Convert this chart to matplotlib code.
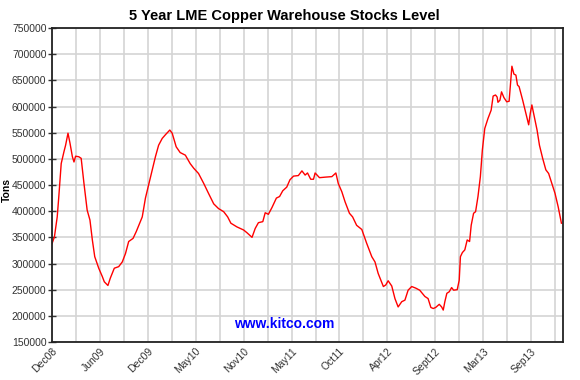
"""
5 Year LME Copper Warehouse Stocks Level, kitco-style line chart.
"""

import matplotlib

matplotlib.use("Agg")

import matplotlib.pyplot as plt  # noqa: E402

plt.rcParams["font.family"] = ["Liberation Sans", "DejaVu Sans"]

# trading-day index (0 = Dec 2008) and warehouse stocks in tons
DAYS = [
    0, 6, 13, 17, 23, 30, 34, 40, 45, 51, 55, 59, 67, 73, 80, 88, 95, 101,
    107, 117, 126, 131, 140, 146, 156, 167, 176, 184, 192, 203, 211, 217,
    226, 234, 242, 251, 259, 267, 276, 284, 295, 301, 311, 321, 334, 346,
    355, 367, 380, 392, 405, 417, 430, 440, 448, 463, 480, 488, 501, 509,
    517, 528, 534, 542, 551, 562, 570, 578, 588, 596, 605, 617, 626, 634,
    640, 648, 655, 659, 670, 684, 701, 711, 717, 726, 734, 745, 753, 763,
    776, 788, 801, 809, 817, 830, 836, 842, 851, 859, 867, 876, 884, 892,
    901, 911, 921, 934, 942, 949, 955, 961, 970, 976, 980, 984, 989, 995,
    1001, 1006, 1015, 1020, 1023, 1028, 1034, 1040, 1046, 1050, 1056, 1061,
    1067, 1073, 1078, 1084, 1092, 1100, 1105, 1111, 1115, 1117, 1122, 1126,
    1132, 1139, 1145, 1152, 1157, 1162, 1166, 1170, 1179, 1186, 1194, 1198,
    1202, 1209, 1215, 1221, 1229, 1237, 1244, 1252, 1260, 1268, 1276,
]
STOCKS = [
    338000, 351000, 389000, 428000, 491000, 514000, 526000, 549000, 530000,
    504000, 494000, 505000, 504000, 501000, 453000, 402000, 383000, 345000,
    313000, 291000, 275000, 265000, 258000, 272000, 291000, 294000, 303000,
    319000, 342000, 348000, 361000, 372000, 389000, 425000, 450000, 479000,
    504000, 526000, 539000, 546000, 555000, 549000, 523000, 512000, 507000,
    491000, 482000, 472000, 453000, 434000, 414000, 405000, 399000, 389000,
    377000, 370000, 364000, 359000, 350000, 367000, 378000, 380000, 397000,
    394000, 407000, 425000, 428000, 439000, 446000, 460000, 467000, 468000,
    477000, 469000, 473000, 461000, 461000, 473000, 464000, 465000, 466000,
    473000, 453000, 437000, 418000, 396000, 389000, 373000, 365000, 339000,
    313000, 303000, 281000, 256000, 259000, 267000, 257000, 233000, 217000,
    227000, 230000, 249000, 256000, 253000, 249000, 237000, 233000, 216000,
    214000, 216000, 222000, 217000, 211000, 227000, 243000, 246000, 254000,
    249000, 250000, 268000, 313000, 321000, 326000, 345000, 342000, 373000,
    396000, 399000, 428000, 466000, 517000, 558000, 577000, 593000, 620000,
    622000, 618000, 608000, 612000, 628000, 617000, 609000, 610000, 677000,
    662000, 660000, 641000, 638000, 612000, 590000, 565000, 587000, 603000,
    577000, 555000, 526000, 501000, 479000, 472000, 453000, 434000, 408000,
    377000,
]

TICK_LABELS = [
    "Dec08", "Jun09", "Dec09", "May10", "Nov10", "May11",
    "Oct11", "Apr12", "Sept12", "Mar13", "Sep13",
]

fig = plt.figure(figsize=(5.8, 3.8), dpi=100)
ax = fig.add_axes([0.0897, 0.1, 0.881, 0.8263])

ax.plot(DAYS, STOCKS, color="#ff0000", lw=1.0)

ax.set_xlim(0, 1280)
ax.set_ylim(150000, 750000)

# grid every 60 trading days, label every other line
ax.set_xticks(range(0, 1281, 60))
labels = []
for i in range(len(range(0, 1281, 60))):
    labels.append(TICK_LABELS[i // 2] if i % 2 == 0 and i // 2 < len(TICK_LABELS) else "")
ax.set_xticklabels(labels, rotation=45, ha="right", rotation_mode="anchor",
                   fontsize=7.5, color="#333333")
ax.set_yticks(range(150000, 750001, 50000))
ax.set_yticklabels([str(v) for v in range(150000, 750001, 50000)],
                   fontsize=7.5, color="#333333")

ax.tick_params(axis="x", length=0, pad=3)
ax.tick_params(axis="y", direction="inout", length=6, width=1, color="#333333", pad=1)

ax.grid(True, color="#d4d4d4", lw=1.2)
ax.set_axisbelow(True)
for side in ("left", "bottom", "top", "right"):
    ax.spines[side].set_color("#222222")
    ax.spines[side].set_linewidth(1.3)

fig.text(0.012, 0.5, "Tons", rotation=90, ha="center", va="center",
         fontsize=7.5, fontweight="bold")
fig.text(0.49, 0.958, "5 Year LME Copper Warehouse Stocks Level",
         ha="center", va="center", fontsize=10.5, fontweight="bold")
fig.text(0.49, 0.147, "www.kitco.com", ha="center", va="center",
         fontsize=10, fontweight="bold", color="#0000ff")

fig.savefig("out.png", dpi=100)
